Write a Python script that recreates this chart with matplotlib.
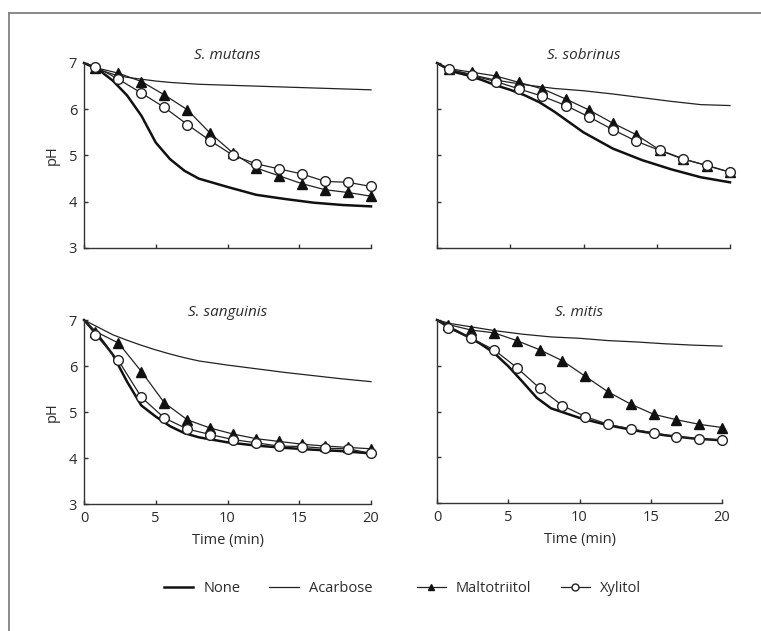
import matplotlib
matplotlib.use('Agg')
import matplotlib.pyplot as plt
from matplotlib.lines import Line2D

plt.rcParams['font.family'] = ['Open Sans', 'DejaVu Sans']

# time grids (min)
t_curve = [0, 1, 2, 3, 4, 5, 6, 7, 8, 10, 12, 14, 16, 18, 20]
t_mark = [0, 0.8, 2.4, 4.0, 5.6, 7.2, 8.8, 10.4, 12.0, 13.6, 15.2, 16.8, 18.4, 20.0]

species = ['S. mutans', 'S. sobrinus', 'S. sanguinis', 'S. mitis']

none_ph = {
    'S. mutans':    [7.0, 6.86, 6.62, 6.30, 5.86, 5.28, 4.92, 4.67, 4.50, 4.32, 4.15, 4.06, 3.98, 3.93, 3.90],
    'S. sobrinus':  [7.0, 6.82, 6.74, 6.64, 6.52, 6.42, 6.30, 6.15, 5.95, 5.50, 5.15, 4.90, 4.70, 4.53, 4.42],
    'S. sanguinis': [7.0, 6.66, 6.25, 5.66, 5.14, 4.90, 4.69, 4.54, 4.45, 4.34, 4.27, 4.22, 4.18, 4.15, 4.10],
    'S. mitis':     [7.0, 6.82, 6.66, 6.49, 6.28, 5.99, 5.65, 5.30, 5.07, 4.86, 4.70, 4.58, 4.48, 4.41, 4.37],
}
acarbose_ph = {
    'S. mutans':    [7.0, 6.86, 6.76, 6.69, 6.65, 6.61, 6.58, 6.56, 6.54, 6.52, 6.50, 6.48, 6.46, 6.44, 6.42],
    'S. sobrinus':  [7.0, 6.85, 6.78, 6.70, 6.63, 6.58, 6.53, 6.49, 6.45, 6.40, 6.33, 6.25, 6.17, 6.10, 6.08],
    'S. sanguinis': [7.0, 6.84, 6.68, 6.56, 6.45, 6.35, 6.26, 6.18, 6.11, 6.02, 5.94, 5.86, 5.79, 5.72, 5.66],
    'S. mitis':     [7.0, 6.92, 6.87, 6.82, 6.77, 6.73, 6.69, 6.66, 6.63, 6.60, 6.55, 6.52, 6.48, 6.45, 6.43],
}
maltotriitol_ph = {
    'S. mutans':    [7.0, 6.90, 6.78, 6.60, 6.31, 5.99, 5.48, 5.05, 4.73, 4.56, 4.39, 4.26, 4.20, 4.12],
    'S. sobrinus':  [7.0, 6.88, 6.80, 6.72, 6.58, 6.44, 6.22, 5.98, 5.70, 5.45, 5.12, 4.93, 4.78, 4.64],
    'S. sanguinis': [7.0, 6.75, 6.50, 5.88, 5.20, 4.83, 4.65, 4.52, 4.42, 4.36, 4.30, 4.26, 4.23, 4.20],
    'S. mitis':     [7.0, 6.90, 6.78, 6.72, 6.55, 6.35, 6.11, 5.77, 5.43, 5.16, 4.94, 4.82, 4.72, 4.65],
}
xylitol_ph = {
    'S. mutans':    [7.0, 6.92, 6.65, 6.35, 6.04, 5.67, 5.32, 5.00, 4.82, 4.71, 4.60, 4.44, 4.42, 4.33],
    'S. sobrinus':  [7.0, 6.87, 6.73, 6.60, 6.44, 6.28, 6.08, 5.83, 5.56, 5.31, 5.11, 4.92, 4.79, 4.64],
    'S. sanguinis': [7.0, 6.68, 6.12, 5.32, 4.87, 4.63, 4.51, 4.40, 4.33, 4.26, 4.25, 4.21, 4.20, 4.10],
    'S. mitis':     [7.0, 6.82, 6.60, 6.35, 5.96, 5.51, 5.13, 4.89, 4.72, 4.62, 4.53, 4.45, 4.40, 4.38],
}

W, H = 761, 631
# axes boxes in pixels: (left, right, top, bottom)
boxes = [(84, 371, 63, 248), (437, 730, 63, 248),
         (84, 371, 320, 504), (437, 722, 320, 503)]

fig = plt.figure(figsize=(W / 100, H / 100), dpi=100)
fig.patch.set_facecolor('white')
txt = '#2b2b2b'
fs = 10.5

# scan frame: top and left rules
fig.add_artist(Line2D([9 / W, 9 / W], [0, 1 - 13 / H], transform=fig.transFigure, color='#808080', lw=1.3))
fig.add_artist(Line2D([9 / W, 1], [1 - 13 / H, 1 - 13 / H], transform=fig.transFigure, color='#808080', lw=1.3))

mk = list(range(1, len(t_mark)))
for i, (name, (l, r, t, b)) in enumerate(zip(species, boxes)):
    ax = fig.add_axes([l / W, 1 - b / H, (r - l) / W, (b - t) / H])
    ax.plot(t_curve, acarbose_ph[name], color='#222222', lw=0.9, clip_on=False)
    ax.plot(t_curve, none_ph[name], color='#111111', lw=1.8, clip_on=False)
    ax.plot(t_mark, maltotriitol_ph[name], color='#222222', lw=0.9, marker='^', ms=6.5,
            mfc='#111111', mec='#111111', markevery=mk, clip_on=False)
    ax.plot(t_mark, xylitol_ph[name], color='#222222', lw=0.9, marker='o', ms=7,
            mfc='white', mec='#222222', mew=1.0, markevery=mk, clip_on=False)
    ax.set_xlim(0, 20)
    ax.set_ylim(3, 7)
    ax.set_xticks([0, 5, 10, 15, 20])
    ax.set_yticks([3, 4, 5, 6, 7])
    for s in ['top', 'right']:
        ax.spines[s].set_visible(False)
    for s in ['left', 'bottom']:
        ax.spines[s].set_color('#333333')
        ax.spines[s].set_linewidth(1.0)
    ax.tick_params(direction='in', length=3, width=1, color='#333333',
                   labelsize=fs, labelcolor=txt, pad=5)
    ax.set_title(name, fontsize=11, style='italic', color=txt, pad=2)
    if i % 2 == 0:
        ax.set_ylabel('pH', fontsize=fs, color=txt, labelpad=6)
    else:
        ax.tick_params(labelleft=False)
    if i >= 2:
        ax.set_xlabel('Time (min)', fontsize=fs, color=txt, labelpad=5)
    else:
        ax.tick_params(labelbottom=False)
    ax.patch.set_alpha(0)

h_none = Line2D([], [], color='#111111', lw=1.8)
h_acar = Line2D([], [], color='#222222', lw=0.9)
h_malt = Line2D([], [], color='#222222', lw=0.9, marker='^', ms=5, mfc='#111111', mec='#111111')
h_xyl = Line2D([], [], color='#222222', lw=0.9, marker='o', ms=5, mfc='white', mec='#222222')

leg_y = 1 - 589 / H
kw = dict(ncol=2, frameon=False, fontsize=fs, handlelength=2.0, handletextpad=0.7,
          columnspacing=2.0, loc='center', labelcolor=txt)
fig.legend([h_none, h_acar], ['None', 'Acarbose'], bbox_to_anchor=(268 / W, leg_y), **kw)
fig.legend([h_malt, h_xyl], ['Maltotriitol', 'Xylitol'], bbox_to_anchor=(529 / W, leg_y), **kw)

fig.savefig('out.png', dpi=100)
